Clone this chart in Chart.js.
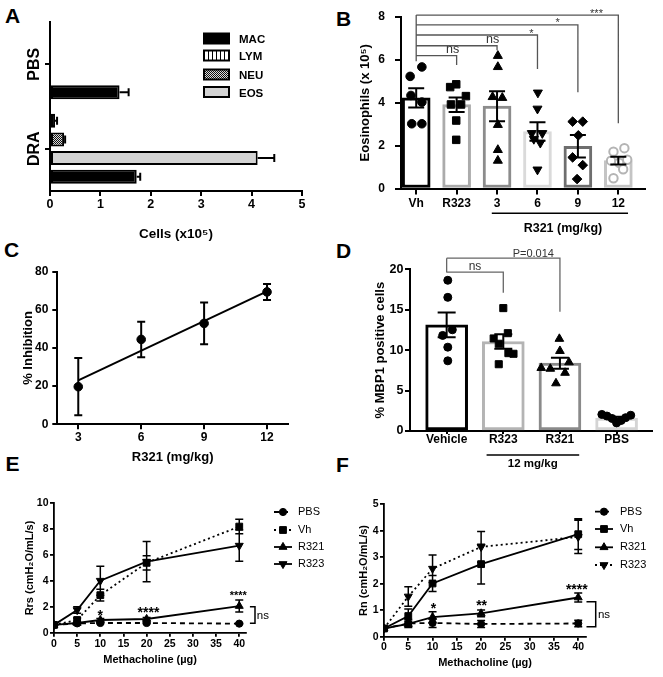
<!DOCTYPE html>
<html><head><meta charset="utf-8">
<script src="https://cdn.jsdelivr.net/npm/chart.js@4.4.1/dist/chart.umd.min.js"></script>
<style>
html,body{margin:0;padding:0;background:#fff;}
#root{position:relative;width:663px;height:677px;overflow:hidden;background:#fff;}
#root canvas{position:absolute;}
.lt{position:absolute;font:bold 21px 'Liberation Sans',Arial,sans-serif;color:#000;line-height:1;}
</style></head><body><div id="root">
<div class="lt" style="left:5px;top:4.5px">A</div>
<div class="lt" style="left:336px;top:7.5px">B</div>
<div class="lt" style="left:4px;top:239px">C</div>
<div class="lt" style="left:336px;top:240px">D</div>
<div class="lt" style="left:5.5px;top:452.5px">E</div>
<div class="lt" style="left:336px;top:454px">F</div>
</div>
<script>
// ================= DATA =================
// Panel A : BAL cells (x10^5)
const aCategories = ['PBS', 'DRA'];
const aSeriesNames = ['LYM', 'NEU', 'EOS', 'MAC'];
const aLYM = [0, 0.10];
const aLYMErr = [0, 0.04];
const aNEU = [0, 0.28];
const aNEUErr = [0, 0.02];
const aEOS = [0, 4.12];
const aEOSErr = [0, 0.33];
const aMAC = [1.38, 1.72];
const aMACErr = [0.18, 0.07];
const aTicks = [0, 1, 2, 3, 4, 5];

// Panel B : Eosinophils (x10^5)
const bCategories = ['Vh', 'R323', '3', '6', '9', '12'];
const bMeans = [4.23, 3.91, 3.84, 2.66, 1.97, 1.30];
const bSems = [0.45, 0.34, 0.70, 0.43, 0.52, 0.18];
const bVh = [5.67, 5.23, 4.34, 4.03, 3.02, 3.02];
const bR323 = [4.86, 4.73, 4.31, 3.92, 3.92, 3.17, 2.27];
const bR321_3 = [6.19, 5.67, 4.27, 4.23, 2.97, 1.80, 1.30];
const bR321_6 = [4.47, 3.72, 2.58, 2.58, 2.31, 2.13, 0.88];
const bR321_9 = [3.12, 3.12, 2.48, 1.45, 1.09, 0.44];
const bR321_12 = [1.72, 1.88, 1.34, 1.30, 1.20, 0.90, 0.48];
const bJitter = [
  [0.14, -0.15, -0.13, 0.14, -0.11, 0.14],
  [-0.01, -0.16, 0.23, -0.14, 0.11, -0.01, -0.01],
  [0.02, 0.02, -0.11, 0.13, 0.02, 0.02, 0.02],
  [0.01, 0, -0.14, 0.12, -0.09, 0.07, 0],
  [-0.13, 0.12, 0.01, -0.13, 0.12, -0.02],
  [-0.12, 0.15, 0.22, -0.18, 0.02, 0.12, -0.12]
];
const bYTicks = [0, 2, 4, 6, 8];

// Panel C : % inhibition vs R321 dose
const cDoses = [3, 6, 9, 12];
const cInhibition = [19.7, 44.5, 52.9, 69.4];
const cSem = [15.0, 9.3, 10.9, 4.2];
const cFitX = [3, 12];
const cFitY = [23.0, 69.7];
const cXTicks = [3, 6, 9, 12];
const cYTicks = [0, 20, 40, 60, 80];

// Panel D : % MBP1 positive cells
const dCategories = ['Vehicle', 'R323', 'R321', 'PBS'];
const dMeans = [13.14, 11.07, 8.39, 1.60];
const dSems = [1.53, 0.90, 0.68, 0.15];
const dVehicle = [18.64, 16.53, 12.52, 11.82, 10.37, 8.68];
const dR323 = [15.2, 12.1, 11.45, 10.79, 9.63, 9.55, 8.26];
const dR321 = [11.4, 9.9, 8.5, 7.8, 7.7, 7.2, 5.9];
const dPBS = [2.05, 1.85, 1.55, 1.0, 1.3, 1.65, 1.95];
const dJitter = [
  [0.02, 0.02, 0.10, -0.07, 0.02, 0.02],
  [0.0, 0.08, -0.17, -0.08, 0.09, 0.18, -0.08],
  [-0.01, 0.0, 0.16, -0.33, -0.17, 0.09, -0.07],
  [-0.26, -0.17, -0.08, 0.0, 0.08, 0.16, 0.25]
];
const dYTicks = [0, 5, 10, 15, 20];

// Panels E / F : methacholine dose response
const mchDoses = [0, 5, 10, 20, 40];
const doseTicks = [0, 5, 10, 15, 20, 25, 30, 35, 40];
const groupNames = ['PBS', 'Vh', 'R321', 'R323'];
const ePBS = [0.60, 0.72, 0.75, 0.75, 0.70];
const ePBSSem = [0, 0.05, 0.06, 0.05, 0.05];
const eVh = [0.60, 0.98, 2.90, 5.40, 8.20];
const eVhSem = [0, 0.15, 0.45, 0.55, 0.56];
const eR321 = [0.60, 0.75, 0.98, 1.06, 2.06];
const eR321Sem = [0, 0.08, 0.12, 0.12, 0.46];
const eR323 = [0.60, 1.75, 4.02, 5.49, 6.73];
const eR323Sem = [0, 0.25, 1.12, 1.55, 1.20];
const eYTicks = [0, 2, 4, 6, 8, 10];

const fPBS = [0.31, 0.50, 0.52, 0.48, 0.50];
const fPBSSem = [0, 0.15, 0.17, 0.13, 0.12];
const fVh = [0.31, 0.78, 2.01, 2.74, 3.87];
const fVhSem = [0, 0.27, 0.30, 0.75, 0.58];
const fR321 = [0.31, 0.48, 0.74, 0.88, 1.48];
const fR321Sem = [0, 0.10, 0.20, 0.13, 0.17];
const fR323 = [0.31, 1.52, 2.57, 3.39, 3.77];
const fR323Sem = [0, 0.37, 0.52, 0.58, 0.63];
const fYTicks = [0, 1, 2, 3, 4, 5];

// annotations (data coordinates)
const bBrackets = [
  { to: 1, line: 6.20, drop: 5.76, text: 'ns', tx: 0.90, ty: 6.31, size: 12.5 },
  { to: 2, line: 6.66, drop: 6.45, text: 'ns', tx: 1.89, ty: 6.78, size: 12.5 },
  { to: 3, line: 7.16, drop: 5.57, text: '*', tx: 2.85, ty: 7.05, size: 11 },
  { to: 4, line: 7.63, drop: 4.49, text: '*', tx: 3.50, ty: 7.56, size: 11 },
  { to: 5, line: 8.09, drop: 3.04, text: '***', tx: 4.46, ty: 7.98, size: 11 }
];
const bStem = [8.09, 5.94];
const dBrackets = [
  { to: 1, line: 19.64, drop: 17.1, text: 'ns', tx: 0.50, ty: 19.88, size: 12 },
  { to: 2, line: 21.37, drop: 14.76, text: 'P=0.014', tx: 1.53, ty: 21.5, size: 11 }
];
const dStem = [21.37, 19.6];
const eStars = [
  { x: 10, y: 1.0, t: '*', size: 14 },
  { x: 20.4, y: 1.19, t: '****', size: 14 },
  { x: 39.8, y: 2.6, t: '****', size: 11 }
];
const eNs = { x1: 42.3, x2: 43.4, yTop: 2.01, yBot: 0.73, tx: 45.1, ty: 1.07 };
const fStars = [
  { x: 10.2, y: 0.89, t: '*', size: 14 },
  { x: 20.1, y: 1.02, t: '**', size: 14 },
  { x: 39.7, y: 1.61, t: '****', size: 14 }
];
const fNs = { x1: 41.7, x2: 43.6, yTop: 1.32, yBot: 0.38, tx: 45.3, ty: 0.71 };

// ================= HELPERS =================
const FONT = "'Liberation Sans', Arial, Helvetica, sans-serif";
Chart.defaults.font.family = FONT;
Chart.defaults.color = '#000';
const root = document.getElementById('root');

function addCanvas(x, y, w, h) {
  const c = document.createElement('canvas');
  c.width = w; c.height = h;
  c.style.left = x + 'px'; c.style.top = y + 'px';
  c.style.width = w + 'px'; c.style.height = h + 'px';
  root.appendChild(c);
  return c;
}
function fnt(size, weight) { return { family: FONT, size: size, weight: weight || 'bold', lineHeight: 1.2 }; }
function zeroPad(s) { s.paddingLeft = 0; s.paddingRight = 0; s.paddingTop = 0; s.paddingBottom = 0; }
function axis(o) {
  const horiz = !!o.horizontal;
  const a = {
    type: o.type || 'linear',
    offset: !!o.offset,
    grid: { display: true, drawOnChartArea: false, drawTicks: true, tickLength: o.tl, tickWidth: o.lw, tickColor: '#000', color: '#000', lineWidth: o.lw, offset: false },
    border: { display: true, color: '#000', width: o.lw },
    ticks: { display: o.showTicks !== false, font: fnt(o.size), color: '#000', padding: o.pad, autoSkip: false, maxRotation: 0, minRotation: 0 },
    afterFit: horiz ? function (s) { s.height = o.box; zeroPad(s); } : function (s) { s.width = o.box; zeroPad(s); },
    title: { display: !!o.title, text: o.title || '', font: fnt(o.tsize || 12), color: '#000',
      padding: horiz ? { top: 0, bottom: o.tpad || 0 } : { top: o.tpad || 0, bottom: 0 } }
  };
  if (o.min !== undefined) a.min = o.min;
  if (o.max !== undefined) a.max = o.max;
  if (o.tickVals) a.afterBuildTicks = function (s) { s.ticks = o.tickVals.map(function (v) { return { value: v }; }); };
  if (o.labels) a.ticks.callback = function (v) { return o.labels[Math.round(v)]; };
  return a;
}
function baseOptions(padding, scales, extra) {
  return Object.assign({
    responsive: false, animation: false, devicePixelRatio: 1,
    layout: { padding: padding },
    plugins: { legend: { display: false }, tooltip: { enabled: false } },
    scales: scales
  }, extra || {});
}
function makePattern(w, h, draw) {
  const c = document.createElement('canvas'); c.width = w; c.height = h;
  const g = c.getContext('2d'); draw(g);
  return g.createPattern(c, 'repeat');
}
function marker(ctx, style, x, y, r, rot, fill, stroke, lw) {
  ctx.save();
  ctx.fillStyle = fill; ctx.strokeStyle = stroke; ctx.lineWidth = lw; ctx.setLineDash([]);
  if (Chart.helpers && Chart.helpers.drawPoint) {
    Chart.helpers.drawPoint(ctx, { pointStyle: style, radius: r, rotation: rot, borderWidth: lw }, x, y);
  } else {
    ctx.beginPath(); ctx.arc(x, y, r, 0, Math.PI * 2); ctx.fill(); ctx.stroke();
  }
  ctx.restore();
}
function vErr(ctx, xs, ys, xv, yv, e, cap) {
  const px = xs.getPixelForValue(xv), t = ys.getPixelForValue(yv + e), b = ys.getPixelForValue(yv - e);
  ctx.moveTo(px, t); ctx.lineTo(px, b);
  ctx.moveTo(px - cap, t); ctx.lineTo(px + cap, t);
  ctx.moveTo(px - cap, b); ctx.lineTo(px + cap, b);
}

// ================= PANEL A =================
const lymPattern = makePattern(4, 4, function (g) { g.fillStyle = '#fff'; g.fillRect(0, 0, 4, 4); g.fillStyle = '#000'; g.fillRect(0, 0, 1, 4); });
const neuPattern = makePattern(2, 2, function (g) { g.fillStyle = '#dcdcdc'; g.fillRect(0, 0, 2, 2); g.fillStyle = '#111'; g.fillRect(0, 0, 1, 1); g.fillRect(1, 1, 1, 1); });
const aFills = [lymPattern, neuPattern, '#d3d3d3', '#000000'];
const aValues = [aLYM, aNEU, aEOS, aMAC];
const aErrs = [aLYMErr, aNEUErr, aEOSErr, aMACErr];
const aLegendOrder = [3, 0, 1, 2];
const aLegendY = [38.5, 55.5, 74.5, 92];

const aPlugin = {
  id: 'aExtra',
  afterDatasetsDraw(chart) {
    const ctx = chart.ctx, xs = chart.scales.x;
    ctx.save(); ctx.strokeStyle = '#000'; ctx.lineWidth = 2;
    aValues.forEach(function (vals, di) {
      const meta = chart.getDatasetMeta(di);
      vals.forEach(function (v, j) {
        const e = aErrs[di][j]; if (!e) return;
        const y = meta.data[j].y;
        const x0 = xs.getPixelForValue(v), x1 = xs.getPixelForValue(v + e);
        ctx.beginPath(); ctx.moveTo(x0, y); ctx.lineTo(x1, y); ctx.moveTo(x1, y - 4); ctx.lineTo(x1, y + 4); ctx.stroke();
      });
    });
    ctx.restore();
  },
  afterDraw(chart) {
    const ctx = chart.ctx, ys = chart.scales.y;
    ctx.save();
    ctx.font = 'bold 16px ' + FONT; ctx.fillStyle = '#000'; ctx.textAlign = 'center'; ctx.textBaseline = 'middle';
    aCategories.forEach(function (c, i) {
      ctx.save(); ctx.translate(35, ys.getPixelForValue(i)); ctx.rotate(-Math.PI / 2); ctx.fillText(c, 0, 0); ctx.restore();
    });
    ctx.font = 'bold 11.5px ' + FONT; ctx.textAlign = 'left';
    aLegendOrder.forEach(function (di, k) {
      const cy = aLegendY[k];
      ctx.fillStyle = aFills[di]; ctx.fillRect(204, cy - 5, 25, 10);
      ctx.strokeStyle = '#000'; ctx.lineWidth = 2; ctx.strokeRect(204, cy - 5, 25, 10);
      ctx.fillStyle = '#000'; ctx.fillText(aSeriesNames[di], 239, cy + 1.5);
    });
    ctx.restore();
  }
};

new Chart(addCanvas(0, 0, 330, 250), {
  type: 'bar',
  data: {
    labels: aCategories,
    datasets: aSeriesNames.map(function (n, i) {
      return { label: n, data: aValues[i], backgroundColor: aFills[i], borderColor: '#000', borderWidth: 2,
        borderSkipped: false, categoryPercentage: 0.885, barPercentage: 0.75 };
    })
  },
  options: baseOptions({ top: 22, right: 28, left: 0, bottom: 0 }, {
    x: axis({ horizontal: true, min: 0, max: 5, tickVals: aTicks, tl: 5, pad: 1, size: 12.5, lw: 2, title: 'Cells (x10⁵)', tsize: 13.5, tpad: 7.9, box: 59 }),
    y: axis({ type: 'category', offset: true, showTicks: false, tl: 5, pad: 0, size: 15, lw: 2, box: 50 })
  }, { indexAxis: 'y' }),
  plugins: [aPlugin]
});

// ================= PANEL B =================
const bGroups = [bVh, bR323, bR321_3, bR321_6, bR321_9, bR321_12];
const bBarColors = ['#000000', '#ababab', '#8c8c8c', '#dadada', '#6e6e6e', '#c4c4c4'];
const bMarkers = [
  { s: 'circle', r: 4.3, rot: 0, bg: '#000', bc: '#000', bw: 1 },
  { s: 'rect', r: 5.3, rot: 0, bg: '#000', bc: '#000', bw: 1 },
  { s: 'triangle', r: 5.2, rot: 0, bg: '#000', bc: '#000', bw: 1 },
  { s: 'triangle', r: 5.2, rot: 180, bg: '#000', bc: '#000', bw: 1 },
  { s: 'rectRot', r: 4.8, rot: 0, bg: '#000', bc: '#000', bw: 1 },
  { s: 'circle', r: 4.2, rot: 0, bg: '#fff', bc: '#b4b4b4', bw: 2 }
];
const bPlugin = {
  id: 'bExtra',
  afterDatasetsDraw(chart) {
    const ctx = chart.ctx, xs = chart.scales.x, ys = chart.scales.y;
    ctx.save(); ctx.strokeStyle = '#000'; ctx.lineWidth = 2; ctx.beginPath();
    bMeans.forEach(function (m, i) { vErr(ctx, xs, ys, i, m, bSems[i], 8); });
    ctx.stroke(); ctx.restore();
  },
  afterDraw(chart) {
    const ctx = chart.ctx, xs = chart.scales.x, ys = chart.scales.y, area = chart.chartArea;
    ctx.save();
    ctx.strokeStyle = '#555'; ctx.lineWidth = 1.3; ctx.beginPath();
    const x0 = xs.getPixelForValue(0);
    ctx.moveTo(x0, ys.getPixelForValue(bStem[0])); ctx.lineTo(x0, ys.getPixelForValue(bStem[1]));
    bBrackets.forEach(function (b) {
      const yl = ys.getPixelForValue(b.line), x1 = xs.getPixelForValue(b.to);
      ctx.moveTo(x0, yl); ctx.lineTo(x1, yl); ctx.lineTo(x1, ys.getPixelForValue(b.drop));
    });
    ctx.stroke();
    ctx.fillStyle = '#333'; ctx.textAlign = 'center'; ctx.textBaseline = 'alphabetic';
    bBrackets.forEach(function (b) {
      ctx.font = b.size + 'px ' + FONT;
      ctx.fillText(b.text, xs.getPixelForValue(b.tx), ys.getPixelForValue(b.ty));
    });
    ctx.strokeStyle = '#000'; ctx.lineWidth = 1.5; ctx.beginPath();
    ctx.moveTo(xs.getPixelForValue(1.87), area.bottom + 24.8); ctx.lineTo(xs.getPixelForValue(5.24), area.bottom + 24.8); ctx.stroke();
    ctx.fillStyle = '#000'; ctx.font = 'bold 12.5px ' + FONT; ctx.textBaseline = 'middle';
    ctx.fillText('R321 (mg/kg)', xs.getPixelForValue(3.63), area.bottom + 40);
    ctx.restore();
  }
};
new Chart(addCanvas(330, 0, 333, 240), {
  type: 'bar',
  data: {
    datasets: bGroups.map(function (g, gi) {
      const m = bMarkers[gi];
      return { type: 'scatter', order: 1,
        data: g.map(function (v, k) { return { x: gi + bJitter[gi][k], y: v }; }),
        pointStyle: m.s, pointRadius: m.r, pointRotation: m.rot, pointBackgroundColor: m.bg, pointBorderColor: m.bc, pointBorderWidth: m.bw };
    }).concat([{ type: 'bar', order: 2,
      data: bMeans.map(function (v, i) { return { x: i, y: v }; }),
      backgroundColor: '#ffffff', borderColor: bBarColors, borderWidth: 3, borderSkipped: false, barThickness: 28 }])
  },
  options: baseOptions({ top: 17, right: 18, left: 0, bottom: 0 }, {
    x: axis({ horizontal: true, min: -0.376, max: 5.66, tickVals: bCategories.map(function (_, i) { return i; }), labels: bCategories, tl: 6, pad: 1.5, size: 12, lw: 2, box: 51.5 }),
    y: axis({ min: 0, max: 8, tickVals: bYTicks, tl: 6, pad: 10, size: 12, lw: 2, title: 'Eosinophils (x 10⁵)', tsize: 13, tpad: 27.2, box: 71 })
  }),
  plugins: [bPlugin]
});

// ================= PANEL C =================
const cPlugin = {
  id: 'cExtra',
  afterDatasetsDraw(chart) {
    const ctx = chart.ctx, xs = chart.scales.x, ys = chart.scales.y;
    ctx.save(); ctx.strokeStyle = '#000'; ctx.lineWidth = 2; ctx.beginPath();
    cDoses.forEach(function (d, i) { vErr(ctx, xs, ys, d, cInhibition[i], cSem[i], 4); });
    ctx.stroke(); ctx.restore();
  }
};
new Chart(addCanvas(0, 240, 330, 230), {
  type: 'scatter',
  data: {
    datasets: [
      { type: 'line', data: cFitX.map(function (x, i) { return { x: x, y: cFitY[i] }; }), borderColor: '#000', borderWidth: 2, pointRadius: 0, fill: false },
      { type: 'scatter', data: cDoses.map(function (x, i) { return { x: x, y: cInhibition[i] }; }), pointStyle: 'circle', pointRadius: 4.3, pointBackgroundColor: '#000', pointBorderColor: '#000' }
    ]
  },
  options: baseOptions({ top: 31.7, right: 42, left: 0, bottom: 0 }, {
    x: axis({ horizontal: true, min: 2, max: 13, tickVals: cXTicks, tl: 5, pad: 1.5, size: 12, lw: 2, title: 'R321 (mg/kg)', tsize: 13, tpad: 5.2, box: 45.7 }),
    y: axis({ min: 0, max: 80, tickVals: cYTicks, tl: 5, pad: 4, size: 12, lw: 2, title: '% Inhibition', tsize: 13, tpad: 20.2, box: 57.3 })
  }),
  plugins: [cPlugin]
});

// ================= PANEL D =================
const dGroups = [dVehicle, dR323, dR321, dPBS];
const dBarColors = ['#000000', '#b4b4b4', '#8a8a8a', '#d4d4d4'];
const dMarkers = [
  { s: 'circle', r: 4, rot: 0 }, { s: 'rect', r: 5, rot: 0 }, { s: 'triangle', r: 5, rot: 0 }, { s: 'circle', r: 4, rot: 0 }
];
const dPlugin = {
  id: 'dExtra',
  afterDatasetsDraw(chart) {
    const ctx = chart.ctx, xs = chart.scales.x, ys = chart.scales.y;
    ctx.save(); ctx.strokeStyle = '#000'; ctx.lineWidth = 2; ctx.beginPath();
    dMeans.forEach(function (m, i) { vErr(ctx, xs, ys, i, m, dSems[i], 9); });
    ctx.stroke(); ctx.restore();
  },
  afterDraw(chart) {
    const ctx = chart.ctx, xs = chart.scales.x, ys = chart.scales.y, area = chart.chartArea;
    ctx.save();
    ctx.strokeStyle = '#666'; ctx.lineWidth = 1.3; ctx.beginPath();
    const x0 = xs.getPixelForValue(0);
    ctx.moveTo(x0, ys.getPixelForValue(dStem[0])); ctx.lineTo(x0, ys.getPixelForValue(dStem[1]));
    dBrackets.forEach(function (b) {
      const yl = ys.getPixelForValue(b.line), x1 = xs.getPixelForValue(b.to);
      ctx.moveTo(x0, yl); ctx.lineTo(x1, yl); ctx.lineTo(x1, ys.getPixelForValue(b.drop));
    });
    ctx.stroke();
    ctx.fillStyle = '#333'; ctx.textAlign = 'center'; ctx.textBaseline = 'alphabetic';
    dBrackets.forEach(function (b) {
      ctx.font = b.size + 'px ' + FONT;
      ctx.fillText(b.text, xs.getPixelForValue(b.tx), ys.getPixelForValue(b.ty));
    });
    ctx.strokeStyle = '#000'; ctx.lineWidth = 1.5; ctx.beginPath();
    ctx.moveTo(xs.getPixelForValue(0.705), area.bottom + 24); ctx.lineTo(xs.getPixelForValue(2.34), area.bottom + 24); ctx.stroke();
    ctx.fillStyle = '#000'; ctx.font = 'bold 11.5px ' + FONT; ctx.textBaseline = 'middle';
    ctx.fillText('12 mg/kg', xs.getPixelForValue(1.52), area.bottom + 33);
    ctx.restore();
  }
};
new Chart(addCanvas(330, 240, 333, 235), {
  type: 'bar',
  data: {
    datasets: dGroups.map(function (g, gi) {
      const m = dMarkers[gi];
      return { type: 'scatter', order: 1,
        data: g.map(function (v, k) { return { x: gi + dJitter[gi][k], y: v }; }),
        pointStyle: m.s, pointRadius: m.r, pointRotation: m.rot, pointBackgroundColor: '#000', pointBorderColor: '#000', pointBorderWidth: 1 };
    }).concat([{ type: 'bar', order: 2,
      data: dMeans.map(function (v, i) { return { x: i, y: v }; }),
      backgroundColor: '#ffffff', borderColor: dBarColors, borderWidth: 3, borderSkipped: false, barThickness: 42 }])
  },
  options: baseOptions({ top: 29.3, right: 11.3, left: 0, bottom: 0 }, {
    x: axis({ horizontal: true, min: -0.647, max: 3.62, tickVals: dCategories.map(function (_, i) { return i; }), labels: dCategories, tl: 3, pad: -2, size: 12, lw: 2, box: 44 }),
    y: axis({ min: 0, max: 20, tickVals: dYTicks, tl: 5, pad: 1.5, size: 12.5, lw: 2, title: '% MBP1 positive cells', tsize: 13, tpad: 42.2, box: 80 })
  }),
  plugins: [dPlugin]
});

// ================= PANELS E / F =================
function doseChart(cfg) {
  const plugin = {
    id: cfg.id,
    afterDatasetsDraw(chart) {
      const ctx = chart.ctx, xs = chart.scales.x, ys = chart.scales.y;
      ctx.save(); ctx.strokeStyle = '#000'; ctx.lineWidth = 1.5; ctx.setLineDash([]); ctx.beginPath();
      cfg.values.forEach(function (vals, si) {
        vals.forEach(function (v, k) { if (cfg.sems[si][k] > 0) vErr(ctx, xs, ys, mchDoses[k], v, cfg.sems[si][k], 4); });
      });
      ctx.stroke(); ctx.restore();
    },
    afterDraw(chart) {
      const ctx = chart.ctx, xs = chart.scales.x, ys = chart.scales.y;
      ctx.save();
      ctx.fillStyle = '#000'; ctx.textAlign = 'center'; ctx.textBaseline = 'alphabetic';
      cfg.stars.forEach(function (s) {
        ctx.font = 'bold ' + s.size + 'px ' + FONT;
        ctx.fillText(s.t, xs.getPixelForValue(s.x), ys.getPixelForValue(s.y));
      });
      const ns = cfg.ns;
      ctx.strokeStyle = '#000'; ctx.lineWidth = 1.5; ctx.beginPath();
      const xa = xs.getPixelForValue(ns.x1), xb = xs.getPixelForValue(ns.x2), yt = ys.getPixelForValue(ns.yTop), yb = ys.getPixelForValue(ns.yBot);
      ctx.moveTo(xa, yt); ctx.lineTo(xb, yt); ctx.lineTo(xb, yb); ctx.lineTo(xa, yb); ctx.stroke();
      ctx.font = '11.5px ' + FONT;
      ctx.fillText('ns', xs.getPixelForValue(ns.tx), ys.getPixelForValue(ns.ty));
      ctx.textAlign = 'left'; ctx.textBaseline = 'middle'; ctx.font = '11px ' + FONT;
      groupNames.forEach(function (n, i) {
        const st = cfg.styles[i], y = cfg.legY[i];
        ctx.strokeStyle = '#000'; ctx.lineWidth = 1.8; ctx.setLineDash(st.dash);
        ctx.beginPath(); ctx.moveTo(cfg.legX - 9, y); ctx.lineTo(cfg.legX + 9, y); ctx.stroke(); ctx.setLineDash([]);
        marker(ctx, st.s, cfg.legX, y, st.r, st.rot, '#000', '#000', 1);
        ctx.fillStyle = '#000'; ctx.fillText(n, cfg.legTX, y);
      });
      ctx.restore();
    }
  };
  return new Chart(addCanvas(cfg.x, cfg.y, cfg.w, cfg.h), {
    type: 'line',
    data: {
      datasets: groupNames.map(function (n, i) {
        const st = cfg.styles[i];
        return { label: n, data: mchDoses.map(function (d, k) { return { x: d, y: cfg.values[i][k] }; }),
          borderColor: '#000', borderWidth: 1.8, borderDash: st.dash, fill: false, tension: 0,
          pointStyle: st.s, pointRadius: st.r, pointRotation: st.rot, pointBackgroundColor: '#000', pointBorderColor: '#000', pointBorderWidth: 1 };
      })
    },
    options: baseOptions(cfg.padding, {
      x: axis({ horizontal: true, min: 0, max: cfg.xMax, tickVals: doseTicks, tl: 4, pad: cfg.xPad, size: 10.5, lw: 1.8, title: 'Methacholine (µg)', tsize: 11, tpad: cfg.xTitlePad, box: cfg.xBox }),
      y: axis({ min: 0, max: cfg.yMax, tickVals: cfg.yTicks, tl: 4, pad: 1.5, size: 10.5, lw: 1.8, title: cfg.yTitle, tsize: 11, tpad: cfg.yTitlePad, box: 54 })
    }),
    plugins: [plugin]
  });
}

doseChart({
  id: 'eExtra', x: 0, y: 480, w: 330, h: 197,
  padding: { top: 23.3, right: 83.8, left: 0, bottom: 0 },
  values: [ePBS, eVh, eR321, eR323], sems: [ePBSSem, eVhSem, eR321Sem, eR323Sem],
  styles: [
    { dash: [5, 4], s: 'circle', r: 3.6, rot: 0 },
    { dash: [2, 3], s: 'rect', r: 4.8, rot: 0 },
    { dash: [], s: 'triangle', r: 4.6, rot: 0 },
    { dash: [], s: 'triangle', r: 4.6, rot: 180 }
  ],
  xMax: 41.5, yMax: 10, yTicks: eYTicks, yTitle: 'Rrs (cmH₂O/mL/s)',
  xPad: 1.5, xTitlePad: 10.4, xBox: 44.3, yTitlePad: 23.4,
  stars: eStars, ns: eNs, legX: 283, legTX: 298, legY: [32, 50, 67, 84]
});
doseChart({
  id: 'fExtra', x: 330, y: 480, w: 333, h: 197,
  padding: { top: 24.3, right: 77, left: 0, bottom: 0 },
  values: [fPBS, fVh, fR321, fR323], sems: [fPBSSem, fVhSem, fR321Sem, fR323Sem],
  styles: [
    { dash: [5, 4], s: 'circle', r: 3.6, rot: 0 },
    { dash: [], s: 'rect', r: 4.8, rot: 0 },
    { dash: [], s: 'triangle', r: 4.6, rot: 0 },
    { dash: [2, 3], s: 'triangle', r: 4.6, rot: 180 }
  ],
  xMax: 41.6, yMax: 5, yTicks: fYTicks, yTitle: 'Rn (cmH₂O/mL/s)',
  xPad: 0, xTitlePad: 7.1, xBox: 40.3, yTitlePad: 27.4,
  stars: fStars, ns: fNs, legX: 274, legTX: 290, legY: [31.7, 49, 67.3, 85]
});
</script></body></html>
